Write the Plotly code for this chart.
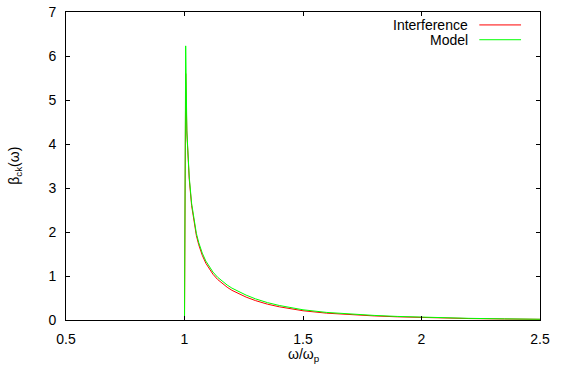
import plotly.graph_objects as go

# Data
omega = [1.000, 1.005, 1.010, 1.015, 1.020, 1.030, 1.040, 1.050, 1.060, 1.075,
         1.090, 1.105, 1.120, 1.140, 1.160, 1.180, 1.200, 1.230, 1.260, 1.300, 1.350,
         1.400, 1.450, 1.500, 1.600, 1.700, 1.800, 1.900, 2.000, 2.100, 2.200, 2.350,
         2.500]
interference = [0.0, 5.6, 4.25, 3.6, 3.2, 2.6, 2.2, 1.92, 1.71, 1.47,
                1.29, 1.15, 1.04, 0.92, 0.825, 0.745, 0.675, 0.59, 0.52, 0.44, 0.36,
                0.30, 0.25, 0.21, 0.155, 0.119, 0.093, 0.072, 0.056, 0.043, 0.033, 0.023,
                0.015]
model = [0.0, 6.23, 4.3, 3.65, 3.25, 2.65, 2.25, 1.97, 1.76, 1.52,
         1.34, 1.20, 1.09, 0.97, 0.875, 0.795, 0.725, 0.64, 0.565, 0.48, 0.395,
         0.33, 0.275, 0.232, 0.172, 0.133, 0.104, 0.081, 0.063, 0.049, 0.038, 0.026,
         0.017]

x_ticks = [0.5, 1, 1.5, 2, 2.5]
x_tick_labels = ["0.5", "1", "1.5", "2", "2.5"]
y_ticks = [0, 1, 2, 3, 4, 5, 6, 7]
y_tick_labels = [str(v) for v in y_ticks]
series_names = ["Interference", "Model"]
series_colors = ["#ff0000", "#00ff00"]

fig = go.Figure()
fig.add_trace(go.Scatter(x=omega, y=interference, mode="lines", name=series_names[0],
                         line=dict(color=series_colors[0], width=1)))
fig.add_trace(go.Scatter(x=omega, y=model, mode="lines", name=series_names[1],
                         line=dict(color=series_colors[1], width=1)))

font = dict(family="Liberation Sans, Arial, sans-serif", size=14, color="black")

axis_common = dict(showline=True, linecolor="black", linewidth=1, mirror="ticks",
                   ticks="inside", ticklen=4, tickcolor="black", showgrid=False,
                   zeroline=False, tickfont=font, automargin=False)

fig.update_layout(
    width=562, height=368,
    margin=dict(l=66, r=22, t=12, b=48),
    paper_bgcolor="white", plot_bgcolor="white",
    showlegend=False,
    font=font,
    xaxis=dict(range=[0.5, 2.5], tickvals=x_ticks, ticktext=x_tick_labels,
               ticklabelstandoff=6, **axis_common),
    yaxis=dict(range=[0, 7], tickvals=y_ticks, ticktext=y_tick_labels,
               ticklabelstandoff=6, **axis_common),
)

# axis titles
fig.add_annotation(xref="paper", yref="paper", x=0.503, y=-0.114, text="ω/ω<sub>p</sub>",
                   showarrow=False, xanchor="center", yanchor="middle", font=font)
fig.add_annotation(xref="paper", yref="paper", x=-0.108, y=0.50, text="β<sub>ck</sub>(ω)",
                   showarrow=False, xanchor="center", yanchor="middle", textangle=-90,
                   font=font)

# gnuplot-style legend (text right-aligned, sample line on the right)
leg_y = [0.958, 0.910]
for name, color, yy in zip(series_names, series_colors, leg_y):
    fig.add_annotation(xref="paper", yref="paper", x=0.853, y=yy, text=name,
                       showarrow=False, xanchor="right", yanchor="middle", font=font)
    fig.add_shape(type="line", xref="paper", yref="paper", x0=0.872, x1=0.96,
                  y0=yy, y1=yy, line=dict(color=color, width=1))

fig.write_html("out.html")
